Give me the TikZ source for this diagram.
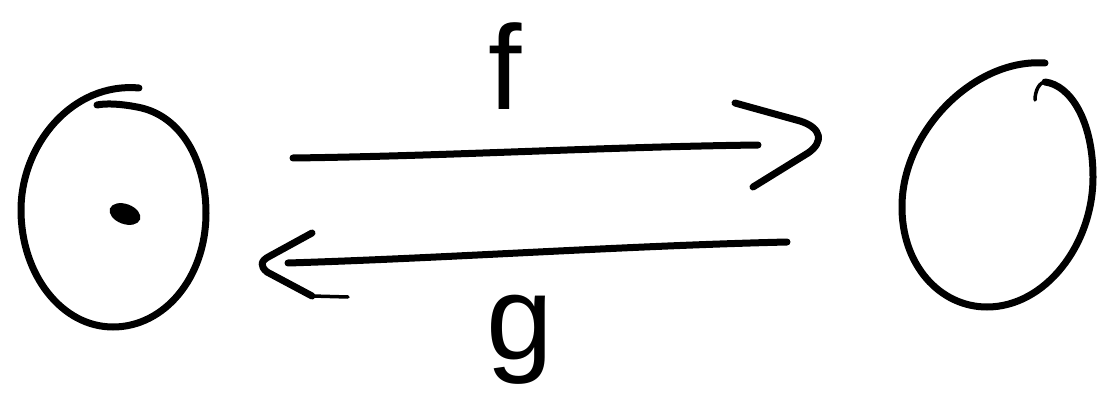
\documentclass[tikz,border=0pt]{standalone}
\usepackage{fontspec}
\setmainfont{Liberation Sans}
\begin{document}
\begin{tikzpicture}[x=1pt,y=-1pt,
  ink/.style={line width=7pt,line cap=round,line join=round,black},
  thin ink/.style={line width=3.5pt,line cap=round,black},
  lbl/.style={font=\fontsize{120}{120}\selectfont,inner sep=0pt}]
\useasboundingbox (0,0) rectangle (1103,401);
% left set
\coordinate (A) at (113,209);
\draw[ink] (139,88) .. controls (72,82) and (21,145) .. (21,210)
  .. controls (21,275) and (62,327) .. (113,327)
  .. controls (164,327) and (206,278) .. (206,213)
  .. controls (206,162) and (182,115) .. (137,107)
  .. controls (122,104) and (106,103) .. (97,105);
\fill[rotate around={-20:(125,214)}] (125,214) ellipse [x radius=16, y radius=10];
% right set
\coordinate (B) at (997,185);
\draw[ink] (1045,63) .. controls (975,58) and (903,130) .. (902,205)
  .. controls (901,265) and (940,307) .. (987,307)
  .. controls (1045,307) and (1093,245) .. (1093,177)
  .. controls (1093,120) and (1070,85) .. (1045,82);
\draw[thin ink] (1045,82) .. controls (1040,82) and (1035,90) .. (1035,100);
% arrow f
\coordinate (fs) at (293,158);
\coordinate (fe) at (758,145);
\draw[ink] (fs) .. controls (450,156) and (600,147) .. (fe);
\coordinate (fh1) at (735,103);
\coordinate (fh2) at (753,187);
\draw[ink] (fh1) -- (800,121) .. controls (822,128) and (824,142) .. (808,153) -- (fh2);
% arrow g
\coordinate (gs) at (787,242);
\coordinate (ge) at (288,263);
\draw[ink] (gs) .. controls (620,246) and (450,258) .. (ge);
\coordinate (gh1) at (312,233);
\coordinate (gh2) at (312,296);
\draw[ink] (gh1) -- (270,256) .. controls (260,261) and (260,266) .. (267,272) -- (gh2);
\draw[thin ink] (gh2) -- (348,297);
% labels
\node[lbl] (f) at (505,66) {f};
\node[lbl] (g) at (520,340) {g};
\end{tikzpicture}
\end{document}
